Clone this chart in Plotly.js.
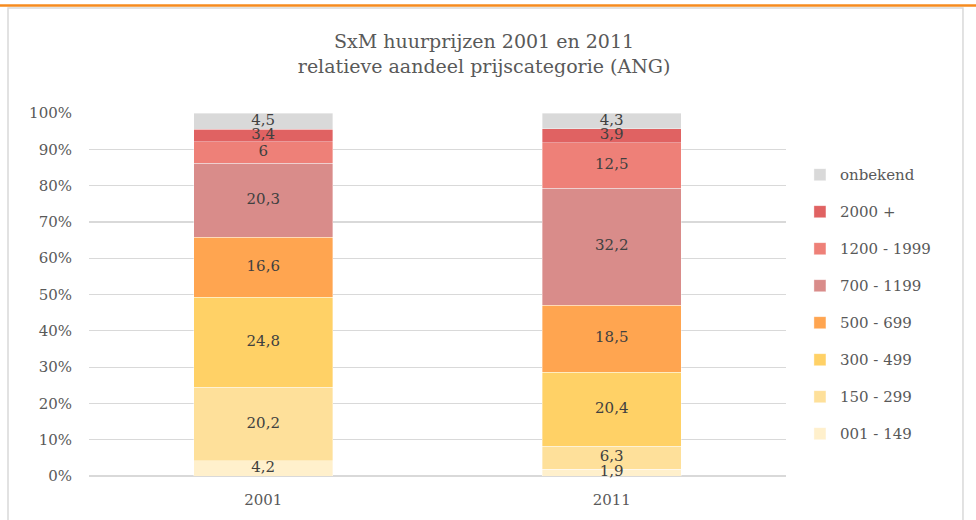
<!DOCTYPE html>
<html>
<head>
<meta charset="utf-8">
<script src="https://cdn.plot.ly/plotly-3.0.1.min.js"></script>
<style>html,body{margin:0;padding:0;background:#fff;}#chart{width:976px;height:520px;}</style>
</head>
<body>
<div id="chart"></div>
<script>
const years = ['2001', '2011'];
const categories = ['001 - 149', '150 - 299', '300 - 499', '500 - 699', '700 - 1199', '1200 - 1999', '2000 +', 'onbekend'];
const values2001 = [4.2, 20.2, 24.8, 16.6, 20.3, 6, 3.4, 4.5];
const values2011 = [1.9, 6.3, 20.4, 18.5, 32.2, 12.5, 3.9, 4.3];
const colors = ['#FFF0CC', '#FEE09A', '#FFD166', '#FFA550', '#D98C8A', '#EE8078', '#E06262', '#D9D9D9'];
const yTicks = [0, 10, 20, 30, 40, 50, 60, 70, 80, 90, 100];

const fmt = v => String(v).replace('.', ',');

const traces = categories.map((name, i) => ({
  type: 'bar',
  name: name,
  x: years,
  y: [values2001[i], values2011[i]],
  marker: {color: colors[i], line: {color: 'rgba(255,255,255,0.6)', width: 0.6}},
  legendgroup: 'g' + i,
  legendrank: categories.length - i,
  hoverinfo: 'none'
}));

// labels drawn above all bars, at the middle of each stacked segment
const labelX = [], labelY = [], labelT = [];
[values2001, values2011].forEach((vals, k) => {
  let base = 0;
  vals.forEach(v => {
    labelX.push(years[k]);
    labelY.push(base + v / 2);
    labelT.push(fmt(v));
    base += v;
  });
});
traces.push({
  type: 'scatter', mode: 'text',
  x: labelX, y: labelY, text: labelT,
  textposition: 'middle center',
  textfont: {family: 'DejaVu Serif', size: 15, color: '#404040'},
  showlegend: false, hoverinfo: 'none', cliponaxis: false
});

const layout = {
  width: 976, height: 520,
  paper_bgcolor: '#ffffff', plot_bgcolor: '#ffffff',
  margin: {l: 89, r: 190, t: 113, b: 44},
  barmode: 'stack',
  bargap: 0.6,
  title: {
    text: 'SxM huurprijzen 2001 en 2011<br>relatieve aandeel prijscategorie (ANG)',
    font: {family: 'DejaVu Serif', size: 19, color: '#595959'},
    x: 0.496, xref: 'container', xanchor: 'center',
    y: 0.907, yref: 'container', yanchor: 'top'
  },
  xaxis: {
    type: 'category',
    showgrid: false, showline: false, zeroline: false,
    tickfont: {family: 'DejaVu Serif', size: 15, color: '#595959'},
    ticks: '', ticklabelstandoff: 13
  },
  yaxis: {
    range: [0, 100],
    tickvals: yTicks,
    ticktext: yTicks.map(t => t + '%'),
    showgrid: true, gridcolor: '#D9D9D9', gridwidth: 1.2,
    zeroline: true, zerolinecolor: '#D9D9D9', zerolinewidth: 1.2,
    showline: false, ticks: '',
    ticklabelstandoff: 16,
    tickfont: {family: 'DejaVu Serif', size: 15, color: '#595959'}
  },
  legend: {
    x: 1.02, xanchor: 'left', y: 0.875, yanchor: 'top',
    traceorder: 'grouped',
    tracegroupgap: 14.5,
    font: {family: 'DejaVu Serif', size: 15, color: '#595959'},
    bgcolor: 'rgba(0,0,0,0)'
  },
  shapes: [
    {type: 'rect', xref: 'paper', yref: 'paper', x0: -0.1162, x1: 1.2539, y0: -0.2, y1: 1.2893,
     line: {color: '#D9D9D9', width: 1.5}, fillcolor: 'rgba(0,0,0,0)', layer: 'below'},
    {type: 'line', xref: 'paper', yref: 'paper', x0: -0.13, x1: 1.28, y0: 1.2961, y1: 1.2961,
     line: {color: '#F68B1F', width: 2.5}, layer: 'above'}
  ]
};

Plotly.newPlot('chart', traces, layout, {displayModeBar: false, staticPlot: true});
</script>
</body>
</html>
